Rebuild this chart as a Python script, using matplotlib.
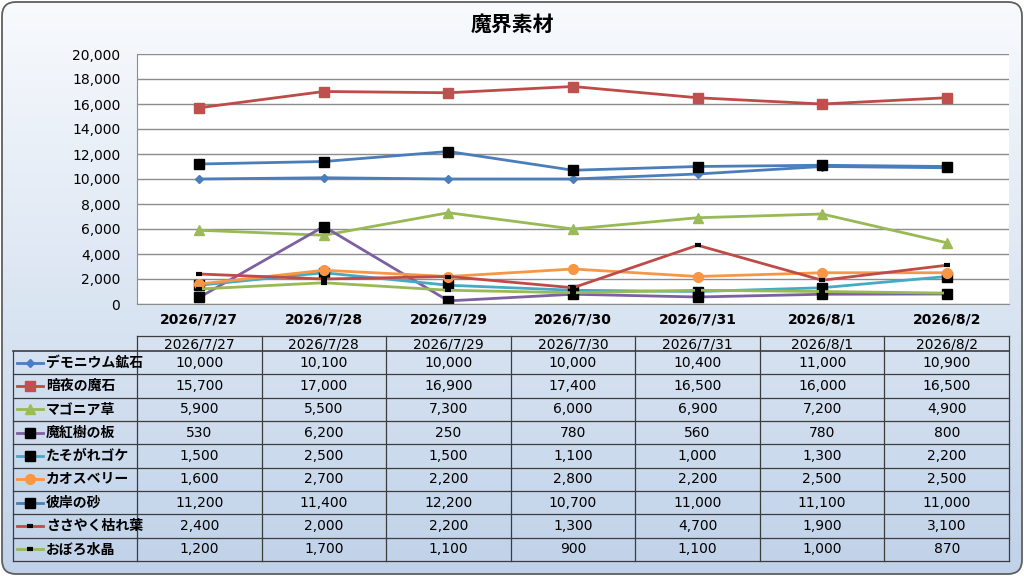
"""魔界素材 chart with data table"""
import matplotlib
matplotlib.use('Agg')
import matplotlib.pyplot as plt
import numpy as np
from matplotlib.patches import FancyBboxPatch
from matplotlib.ticker import FuncFormatter

plt.rcParams['font.family'] = ['DejaVu Sans', 'Noto Sans CJK JP']

dates = ['2026/7/27', '2026/7/28', '2026/7/29', '2026/7/30', '2026/7/31', '2026/8/1', '2026/8/2']
names = ['デモニウム鉱石', '暗夜の魔石', 'マゴニア草', '魔紅樹の板', 'たそがれゴケ',
         'カオスベリー', '彼岸の砂', 'ささやく枯れ葉', 'おぼろ水晶']
demonium = [10000, 10100, 10000, 10000, 10400, 11000, 10900]
anya = [15700, 17000, 16900, 17400, 16500, 16000, 16500]
magonia = [5900, 5500, 7300, 6000, 6900, 7200, 4900]
makouju = [530, 6200, 250, 780, 560, 780, 800]
tasogare = [1500, 2500, 1500, 1100, 1000, 1300, 2200]
chaosberry = [1600, 2700, 2200, 2800, 2200, 2500, 2500]
higan = [11200, 11400, 12200, 10700, 11000, 11100, 11000]
sasayaku = [2400, 2000, 2200, 1300, 4700, 1900, 3100]
oboro = [1200, 1700, 1100, 900, 1100, 1000, 870]
series = [demonium, anya, magonia, makouju, tasogare, chaosberry, higan, sasayaku, oboro]

# line colour, marker, marker colour, marker size, marker edge width
styles = [
    ('#4a7ebb', 'D', '#4a7ebb', 4.2, 1),
    ('#be4b48', 's', '#c0504d', 6.5, 1),
    ('#98b954', '^', '#9bbb59', 7, 1),
    ('#7d60a0', 's', '#000000', 6.5, 1),
    ('#46aac5', 's', '#000000', 6.5, 1),
    ('#f79646', 'o', '#f79646', 7, 1),
    ('#4a7ebb', 's', '#000000', 6.5, 1),
    ('#be4b48', '_', '#000000', 5, 3),
    ('#98b954', '_', '#000000', 5, 3),
]

W, H = 1024, 576
fig = plt.figure(figsize=(W / 100, H / 100), dpi=100)
fig.patch.set_alpha(0)

# background frame with gradient
bg = fig.add_axes([0, 0, 1, 1])
bg.set_xlim(0, W)
bg.set_ylim(H, 0)
bg.axis('off')
top = np.array([248, 250, 253]) / 255
bot = np.array([192, 210, 233]) / 255
t = np.linspace(0, 1, 256)[:, None]
grad = (top * (1 - t) + bot * t)[:, None, :]
img = bg.imshow(grad, extent=(0, W, H, 0), aspect='auto', zorder=0)
frame = FancyBboxPatch((2, 2), W - 4, H - 4, boxstyle='round,pad=0,rounding_size=14',
                       fc='none', ec='#5f5f5f', lw=1.3, zorder=2)
bg.add_patch(frame)
img.set_clip_path(frame)

bg.text(W / 2, 25, '魔界素材', ha='center', va='center', fontsize=15, fontweight='bold')

# main plot area
x0, x1, y0, y1 = 137, 1009, 54, 304
ax = fig.add_axes([x0 / W, (H - y1) / H, (x1 - x0) / W, (y1 - y0) / H])
ax.set_facecolor('white')
xs = np.arange(len(dates))
for vals, (lc, mk, mc, ms, mew) in zip(series, styles):
    ax.plot(xs, vals, color=lc, lw=2, marker=mk, ms=ms, mfc=mc, mec=mc, mew=mew,
            solid_joinstyle='round')
ax.set_xlim(-0.5, len(dates) - 0.5)
ax.set_ylim(0, 20000)
ax.set_yticks(np.arange(0, 20001, 2000))
ax.yaxis.set_major_formatter(FuncFormatter(lambda v, p: f'{int(v):,}'))
ax.set_xticks(xs)
ax.set_xticklabels(dates)
ax.grid(axis='y', color='#8c8c8c', lw=1)
ax.set_axisbelow(True)
ax.tick_params(axis='y', length=0, pad=12, labelsize=10)
ax.tick_params(axis='x', length=0, pad=6, labelsize=10)
for lab in ax.get_xticklabels():
    lab.set_fontweight('bold')
for s in ['top', 'right']:
    ax.spines[s].set_visible(False)
for s in ['left', 'bottom']:
    ax.spines[s].set_color('#8c8c8c')

# data table under the chart
tl, tr = 13, 1009
hy0, hy1 = 336, 351
row_h = (561 - hy1) / len(names)
col_w = (tr - x0) / len(dates)
lc_tab = '#3c3c3c'
bg.plot([x0, tr], [hy0, hy0], color=lc_tab, lw=0.9, zorder=3)
for i in range(len(names) + 1):
    yy = hy1 + i * row_h
    bg.plot([tl, tr], [yy, yy], color=lc_tab, lw=1.2 if i == 0 else 0.9, zorder=3)
bg.plot([tl, tl], [hy1, 561], color=lc_tab, lw=0.9, zorder=3)
for j in range(len(dates) + 1):
    xx = x0 + j * col_w
    bg.plot([xx, xx], [hy0, 561], color=lc_tab, lw=0.9, zorder=3)
for j, d in enumerate(dates):
    bg.text(x0 + (j + 0.5) * col_w, (hy0 + hy1) / 2 + 0.5, d, ha='center', va='center',
            fontsize=10)
for i, (name, vals, (lc, mk, mc, ms, mew)) in enumerate(zip(names, series, styles)):
    yc = hy1 + (i + 0.5) * row_h
    bg.plot([17, 43], [yc, yc], color=lc, lw=2, zorder=4)
    bg.plot([30], [yc], marker=mk, ms=ms, mfc=mc, mec=mc, mew=mew, zorder=5)
    bg.text(46, yc, name, ha='left', va='center', fontsize=10, fontweight='bold')
    for j, v in enumerate(vals):
        bg.text(x0 + (j + 0.5) * col_w, yc, f'{v:,}', ha='center', va='center', fontsize=10)

fig.savefig('out.png', dpi=100)
